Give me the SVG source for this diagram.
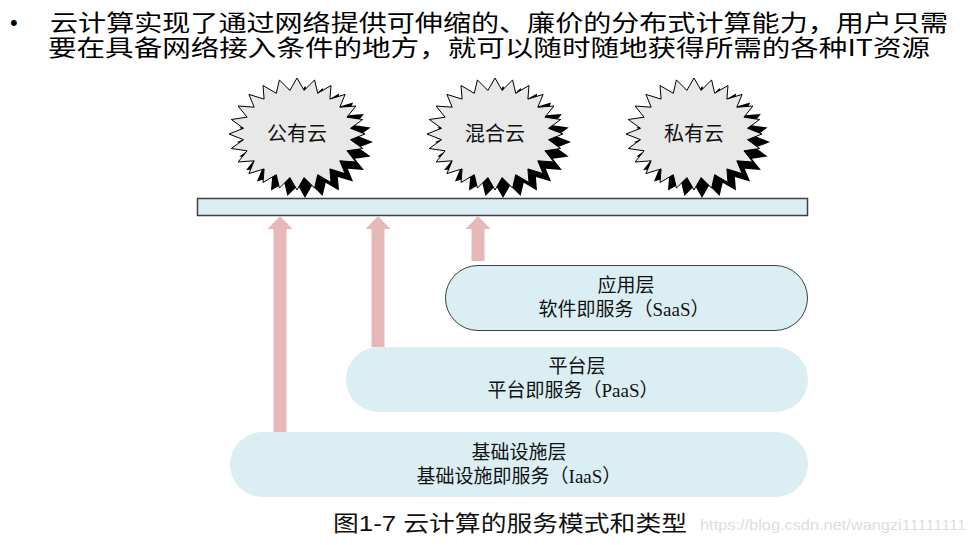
<svg xmlns="http://www.w3.org/2000/svg" xmlns:xlink="http://www.w3.org/1999/xlink" width="974" height="545" viewBox="0 0 974 545">
<defs>
<style>
.top{font-family:"Noto Sans CJK SC","Liberation Sans",sans-serif;font-size:23px;fill:#000}
.lbl{font-family:"Liberation Serif","Noto Sans CJK SC",serif;font-size:19px;fill:#111;text-anchor:middle}
.burst-t{font-family:"Liberation Serif","Noto Sans CJK SC",serif;font-size:20px;fill:#111;text-anchor:middle}
.pill{fill:#DAEEF3}
.arrow{fill:#E6B9B8}
.cap{font-family:"Liberation Sans","Noto Sans CJK SC",sans-serif;font-size:22px;fill:#111}
.wm{font-family:"Liberation Sans",sans-serif;font-size:15px;fill:#DDDDDD}
</style>
<polygon id="star" points="68,0 53.5,5.7 65.7,14.5 49.9,16.8 58.9,28 42.8,26.8 48.1,39.6 32.9,34.9 34,48.5 20.7,40.7 17.6,54.1 7.1,43.6 0,56 -7.1,43.6 -17.6,54.1 -20.7,40.7 -34,48.5 -32.9,34.9 -48.1,39.6 -42.8,26.8 -58.9,28 -49.9,16.8 -65.7,14.5 -53.5,5.7 -68,0 -53.5,-5.7 -65.7,-14.5 -49.9,-16.8 -58.9,-28 -42.8,-26.8 -48.1,-39.6 -32.9,-34.9 -34,-48.5 -20.7,-40.7 -17.6,-54.1 -7.1,-43.6 0,-56 7.1,-43.6 17.6,-54.1 20.7,-40.7 34,-48.5 32.9,-34.9 48.1,-39.6 42.8,-26.8 58.9,-28 49.9,-16.8 65.7,-14.5 53.5,-5.7"/>
</defs>
<rect width="974" height="545" fill="#fff"/>

<g id="intro">
<text x="10" y="30" style="font-family:'Liberation Sans',sans-serif;font-size:22px">•</text>
<text class="top" x="50" y="31" textLength="898" lengthAdjust="spacingAndGlyphs">云计算实现了通过网络提供可伸缩的、廉价的分布式计算能力，用户只需</text>
<text class="top" x="48" y="56" textLength="882" lengthAdjust="spacingAndGlyphs">要在具备网络接入条件的地方，就可以随时随地获得所需的各种IT资源</text>
</g>

<g id="public-cloud">
<use xlink:href="#star" transform="translate(305,142)" fill="#000"/>
<use xlink:href="#star" transform="translate(297,134)" fill="#E8E8E8" stroke="#000" stroke-width="1"/>
<text class="burst-t" x="297" y="141">公有云</text>
</g>
<g id="hybrid-cloud">
<use xlink:href="#star" transform="translate(503,142)" fill="#000"/>
<use xlink:href="#star" transform="translate(495,134)" fill="#E8E8E8" stroke="#000" stroke-width="1"/>
<text class="burst-t" x="495" y="141">混合云</text>
</g>
<g id="private-cloud">
<use xlink:href="#star" transform="translate(702,142)" fill="#000"/>
<use xlink:href="#star" transform="translate(694,134)" fill="#E8E8E8" stroke="#000" stroke-width="1"/>
<text class="burst-t" x="694" y="141">私有云</text>
</g>

<g id="network-bar">
<rect x="197.5" y="198.5" width="610" height="17" fill="#DAEEF3" stroke="#404040" stroke-width="1.5"/>
</g>

<g id="connectors">
<polygon class="arrow" points="280,216 292.5,229 286.5,229 286.5,432 273.5,432 273.5,229 267.5,229"/>
<polygon class="arrow" points="378,216 390.5,229 384.5,229 384.5,347 371.5,347 371.5,229 365.5,229"/>
<polygon class="arrow" points="478,216 490.5,229 484.5,229 484.5,261 471.5,261 471.5,229 465.5,229"/>
</g>

<g id="saas">
<rect class="pill" x="445.5" y="265.5" width="362" height="65" rx="32.5" stroke="#404040" stroke-width="1"/>
<text class="lbl" x="626" y="292">应用层</text>
<text class="lbl" x="624" y="316">软件即服务（SaaS）</text>
</g>
<g id="paas">
<rect class="pill" x="346" y="347" width="462" height="65" rx="32.5"/>
<text class="lbl" x="577" y="373">平台层</text>
<text class="lbl" x="573" y="397">平台即服务（PaaS）</text>
</g>
<g id="iaas">
<rect class="pill" x="230" y="432" width="578" height="65" rx="32.5"/>
<text class="lbl" x="519" y="459">基础设施层</text>
<text class="lbl" x="519" y="483">基础设施即服务（IaaS）</text>
</g>

<g id="caption">
<text class="cap" x="333" y="531" textLength="354" lengthAdjust="spacingAndGlyphs">图1-7 云计算的服务模式和类型</text>
<text class="wm" x="700" y="530" textLength="266" lengthAdjust="spacingAndGlyphs">https://blog.csdn.net/wangzi11111111</text>
</g>
</svg>
